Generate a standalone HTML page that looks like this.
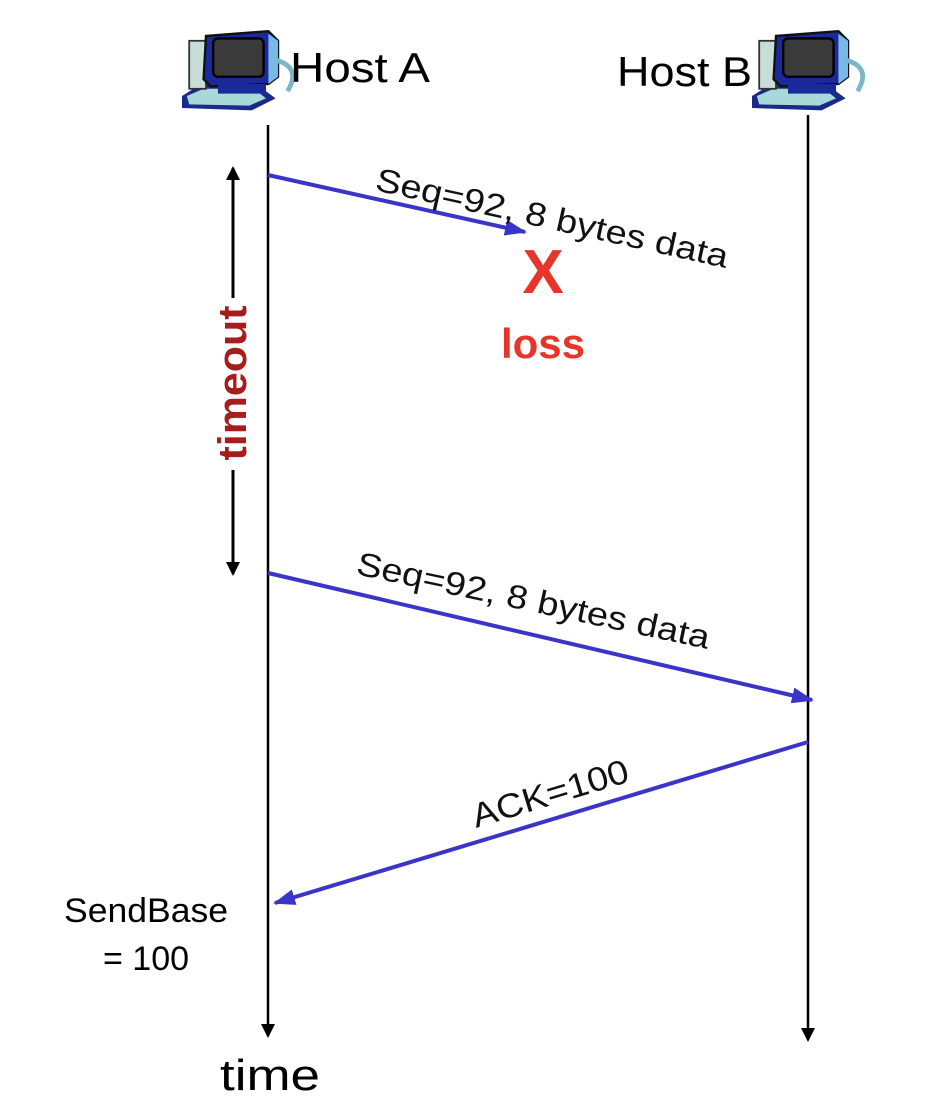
<!DOCTYPE html>
<html><head><meta charset="utf-8"><style>
html,body{margin:0;padding:0;background:#fff;}
svg{display:block;}
text{font-family:"Liberation Sans",sans-serif;}
</style></head><body>
<svg width="930" height="1110" viewBox="0 0 930 1110" xmlns="http://www.w3.org/2000/svg">
<defs>
<marker id="bk" markerWidth="14" markerHeight="14" refX="12" refY="7" orient="auto" markerUnits="userSpaceOnUse" viewBox="0 0 14 14"><path d="M0,0 L14,7 L0,14 z" fill="#000"/></marker>
<marker id="bl" markerWidth="22" markerHeight="16" refX="20" refY="8" orient="auto" markerUnits="userSpaceOnUse" viewBox="0 0 22 16"><path d="M0,0 L22,8 L0,16 z" fill="#3a35c8"/></marker>
<g id="pc">
  <path d="M0,60 L16,50 L62,50 L78,62 L58,72 L0,70 z" fill="#1a2a8a"/>
  <path d="M4,60 L18,54 L60,54 L70,62 L56,68 L6,67 z" fill="#a8d8d8"/>
  <rect x="6" y="14" width="14" height="40" fill="#c8dcd8" stroke="#333" stroke-width="1.5"/>
  <path d="M20,10 L72,6 L80,14 L80,44 L72,50 L24,52 L18,46 z" fill="#1a2a9a" stroke="#111" stroke-width="2"/>
  <rect x="26" y="12" width="42" height="32" rx="4" fill="#3a3a3a" stroke="#000" stroke-width="2"/>
  <path d="M72,8 L80,14 L80,44 L72,50" fill="#7ab8e8"/>
  <path d="M78,30 Q100,36 88,56" fill="none" stroke="#7ab8c8" stroke-width="4"/>
  <rect x="30" y="50" width="40" height="8" fill="#1a2a9a"/>
</g>
</defs>

<use href="#pc" transform="translate(182,24) scale(1.2)"/>
<use href="#pc" transform="translate(752,24) scale(1.2)"/>
<text x="290" y="82" font-size="42" fill="#000" textLength="140" lengthAdjust="spacingAndGlyphs">Host A</text>
<text x="617" y="86" font-size="42" fill="#000" textLength="135" lengthAdjust="spacingAndGlyphs">Host B</text>

<line x1="268" y1="125" x2="268" y2="1036" stroke="#000" stroke-width="2.5" marker-end="url(#bk)"/>
<line x1="808" y1="115" x2="808" y2="1040" stroke="#000" stroke-width="2.5" marker-end="url(#bk)"/>

<line x1="233" y1="298" x2="233" y2="168" stroke="#000" stroke-width="3" marker-end="url(#bk)"/>
<line x1="233" y1="470" x2="233" y2="574" stroke="#000" stroke-width="3" marker-end="url(#bk)"/>
<text transform="translate(246,383) rotate(-90)" text-anchor="middle" font-size="40" font-weight="bold" fill="#a81c1c" textLength="155" lengthAdjust="spacingAndGlyphs">timeout</text>

<line x1="268" y1="175" x2="525" y2="232" stroke="#3a35c8" stroke-width="4" marker-end="url(#bl)"/>
<text transform="translate(374,190) rotate(12.5)" font-size="33" fill="#111" textLength="360" lengthAdjust="spacingAndGlyphs">Seq=92, 8 bytes data</text>
<text x="543" y="293" text-anchor="middle" font-size="62" font-weight="bold" fill="#e8352a">X</text>
<text x="543" y="358" text-anchor="middle" font-size="42" font-weight="bold" fill="#e8352a">loss</text>

<line x1="268" y1="573" x2="812" y2="700" stroke="#3a35c8" stroke-width="4" marker-end="url(#bl)"/>
<text transform="translate(355,574) rotate(12)" font-size="33" fill="#111" textLength="360" lengthAdjust="spacingAndGlyphs">Seq=92, 8 bytes data</text>

<line x1="808" y1="742" x2="275" y2="903" stroke="#3a35c8" stroke-width="4" marker-end="url(#bl)"/>
<text transform="translate(476,828) rotate(-16.8)" font-size="34" fill="#111" textLength="162" lengthAdjust="spacingAndGlyphs">ACK=100</text>

<text x="146" y="922" text-anchor="middle" font-size="34" fill="#000" textLength="164" lengthAdjust="spacingAndGlyphs">SendBase</text>
<text x="146" y="970" text-anchor="middle" font-size="34" fill="#000">= 100</text>
<text x="270" y="1090" text-anchor="middle" font-size="44" fill="#000" textLength="100" lengthAdjust="spacingAndGlyphs">time</text>
</svg>
</body></html>
